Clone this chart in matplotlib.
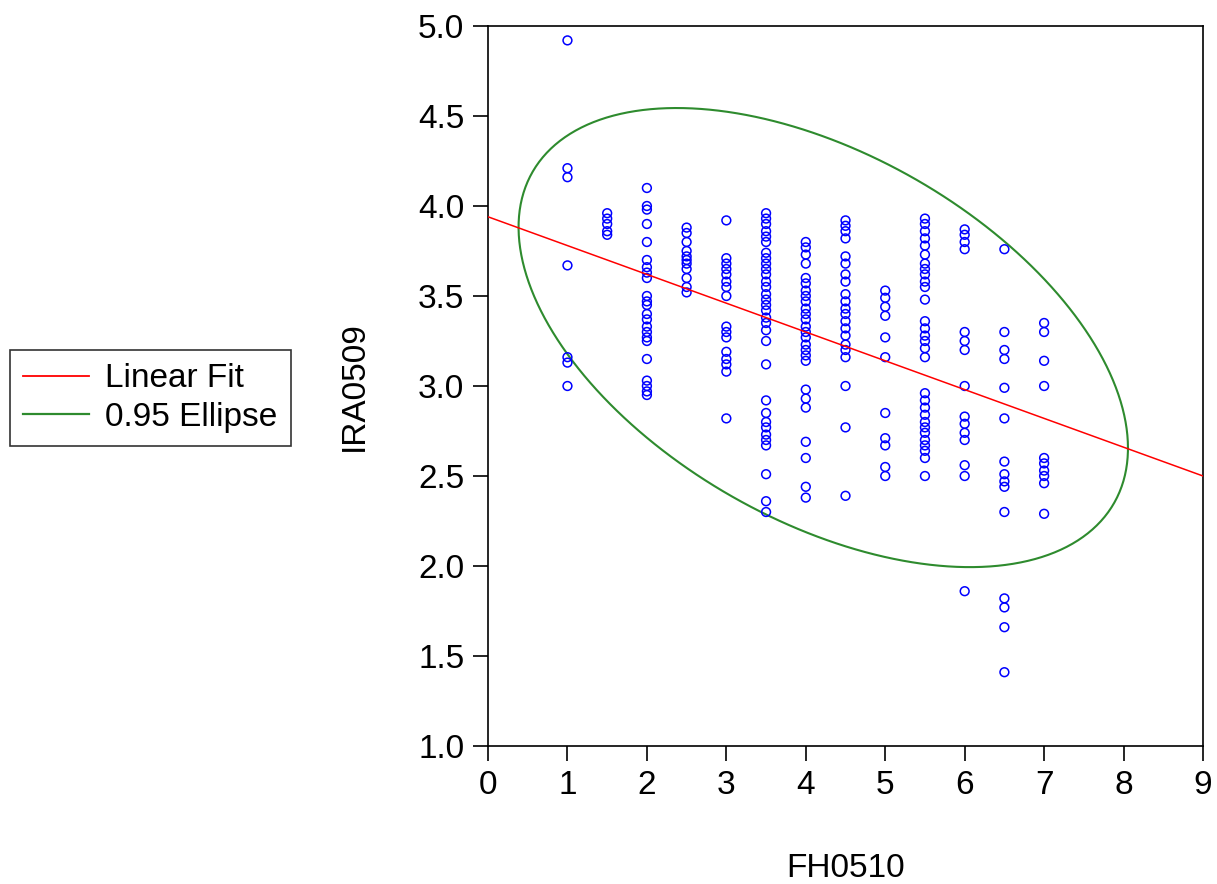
import numpy as np
import matplotlib
matplotlib.use("Agg")
import matplotlib.pyplot as plt
from matplotlib.lines import Line2D

plt.rcParams['font.family'] = ['Liberation Sans', 'DejaVu Sans']

# Data: groups by FH0510 value
fh_groups = [1, 1.5, 2, 2.5, 3, 3.5, 4, 4.5, 5, 5.5, 6, 6.5, 7]
ira_groups = [
    [4.92, 4.21, 4.16, 3.67, 3.16, 3.13, 3.00],
    [3.96, 3.93, 3.90, 3.86, 3.84],
    [4.10, 4.00, 3.98, 3.90, 3.80, 3.70, 3.66, 3.63, 3.60, 3.50, 3.47, 3.45,
     3.40, 3.37, 3.33, 3.30, 3.27, 3.25, 3.15, 3.03, 3.00, 2.97, 2.95],
    [3.88, 3.85, 3.80, 3.75, 3.72, 3.70, 3.68, 3.65, 3.60, 3.55, 3.52],
    [3.92, 3.71, 3.68, 3.65, 3.62, 3.58, 3.55, 3.50, 3.33, 3.30, 3.27,
     3.19, 3.15, 3.12, 3.08, 2.82],
    [3.96, 3.93, 3.90, 3.86, 3.83, 3.80, 3.74, 3.71, 3.68, 3.65, 3.62, 3.58,
     3.55, 3.51, 3.48, 3.45, 3.42, 3.38, 3.35, 3.31, 3.25, 3.12, 2.92, 2.85,
     2.80, 2.77, 2.73, 2.70, 2.67, 2.51, 2.36, 2.30],
    [3.80, 3.77, 3.73, 3.68, 3.60, 3.57, 3.53, 3.50, 3.47, 3.43, 3.40, 3.37,
     3.33, 3.30, 3.27, 3.23, 3.20, 3.17, 3.14, 2.98, 2.93, 2.88, 2.69, 2.60,
     2.44, 2.38],
    [3.92, 3.89, 3.86, 3.82, 3.72, 3.68, 3.62, 3.58, 3.51, 3.47, 3.43, 3.40,
     3.36, 3.32, 3.28, 3.23, 3.20, 3.16, 3.00, 2.77, 2.39],
    [3.53, 3.49, 3.44, 3.39, 3.27, 3.16, 2.85, 2.71, 2.67, 2.55, 2.50],
    [3.93, 3.90, 3.86, 3.82, 3.78, 3.73, 3.68, 3.65, 3.62, 3.58, 3.55, 3.48,
     3.36, 3.32, 3.28, 3.25, 3.21, 3.16, 2.96, 2.92, 2.88, 2.84, 2.80, 2.77,
     2.74, 2.70, 2.67, 2.64, 2.60, 2.50],
    [3.87, 3.84, 3.80, 3.76, 3.30, 3.25, 3.20, 3.00, 2.83, 2.79, 2.74, 2.70,
     2.56, 2.50, 1.86],
    [3.76, 3.30, 3.20, 3.15, 2.99, 2.82, 2.58, 2.51, 2.47, 2.44, 2.30,
     1.82, 1.77, 1.66, 1.41],
    [3.35, 3.30, 3.14, 3.00, 2.60, 2.57, 2.53, 2.50, 2.46, 2.29],
]

# Linear fit and 0.95 ellipse parameters
fit_intercept = 3.94
fit_slope = -0.16
ell_center = (4.22, 3.269)
ell_sd_x = 1.567
ell_sd_y = 0.521
ell_chi2 = 5.991

x = np.concatenate([[g] * len(v) for g, v in zip(fh_groups, ira_groups)])
y = np.concatenate(ira_groups)

fig = plt.figure(figsize=(12.17, 8.84), dpi=100)
ax = fig.add_axes([0.401, 0.1561, 0.5875, 0.8145])

ax.scatter(x, y, s=40, facecolors='none', edgecolors='#0000ff', linewidths=1.1, zorder=3)

xl = np.array([0, 9])
ax.plot(xl, fit_intercept + fit_slope * xl, color='#ff0000', lw=1.1, zorder=4)

cov_xy = fit_slope * ell_sd_x ** 2
cov = np.array([[ell_sd_x ** 2, cov_xy], [cov_xy, ell_sd_y ** 2]])
t = np.linspace(0, 2 * np.pi, 400)
L = np.linalg.cholesky(cov)
pts = (L @ np.vstack([np.cos(t), np.sin(t)])) * np.sqrt(ell_chi2)
ax.plot(pts[0] + ell_center[0], pts[1] + ell_center[1], color='#2e8b2e', lw=1.5, zorder=2)

ax.set_xlim(0, 9)
ax.set_ylim(1.0, 5.0)
ax.set_xticks(range(0, 10))
yt = np.arange(1.0, 5.01, 0.5)
ax.set_yticks(yt)
ax.set_yticklabels([f"{v:.1f}" for v in yt])
ax.tick_params(direction='out', length=11, width=1.2, labelsize=24, colors='black', pad=6)
for s in ax.spines.values():
    s.set_linewidth(1.2)
ax.set_xlabel('FH0510', fontsize=24, labelpad=38)
ax.set_ylabel('IRA0509', fontsize=24, labelpad=35)

handles = [Line2D([], [], color='#ff0000', lw=1.3), Line2D([], [], color='#2e8b2e', lw=1.6)]
leg = fig.legend(handles, ['Linear Fit', '0.95 Ellipse'], loc='upper left',
                 bbox_to_anchor=(10 / 1217, 1 - 350 / 884), fontsize=24, frameon=True, fancybox=False,
                 edgecolor='black', handlelength=1.98, borderpad=0.4, labelspacing=0.23,
                 handletextpad=0.47, borderaxespad=0)
leg.get_frame().set_linewidth(1.2)

fig.savefig('out.png', dpi=100)
